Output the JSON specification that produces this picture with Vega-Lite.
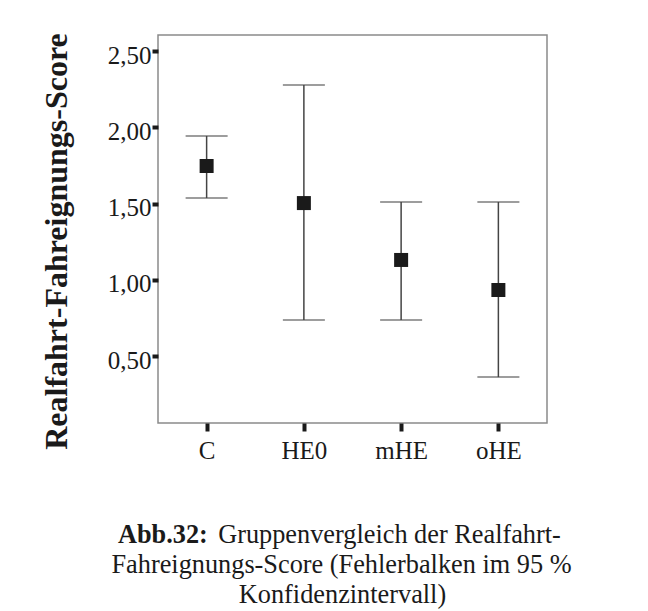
{
  "$schema": "https://vega.github.io/schema/vega-lite/v6.json",
  "width": 389,
  "height": 388,
  "autosize": "none",
  "padding": {"left": 158, "top": 35, "right": 101, "bottom": 188},
  "background": "white",
  "data": {
    "values": [
      {"gruppe": "C", "mittel": 1.746, "unten": 1.536, "oben": 1.943},
      {"gruppe": "HE0", "mittel": 1.503, "unten": 0.736, "oben": 2.277},
      {"gruppe": "mHE", "mittel": 1.130, "unten": 0.736, "oben": 1.510},
      {"gruppe": "oHE", "mittel": 0.933, "unten": 0.362, "oben": 1.510}
    ]
  },
  "title": {
    "text": "Abb.32:",
    "orient": "top",
    "anchor": "start",
    "frame": "group",
    "font": "Liberation Serif",
    "fontSize": 26.3,
    "fontWeight": "bold",
    "color": "#1a1a1a",
    "baseline": "alphabetic",
    "offset": 0,
    "dx": -40,
    "dy": 537
  },
  "resolve": {
    "scale": {"x": "independent", "y": "independent"},
    "axis": {"x": "independent", "y": "independent"}
  },
  "layer": [
    {
      "mark": {"type": "rule", "color": "#444444", "strokeWidth": 1.5},
      "encoding": {
        "x": {
          "field": "gruppe",
          "type": "nominal",
          "scale": {"type": "point", "padding": 0.5, "domain": ["C", "HE0", "mHE", "oHE"]},
          "axis": {
            "title": "Gruppenvergleich der Realfahrt-",
            "titleFont": "Liberation Serif",
            "titleFontSize": 26.3,
            "titleFontWeight": "normal",
            "titleColor": "#1a1a1a",
            "titleAlign": "center",
            "titleBaseline": "alphabetic",
            "titleX": 231,
            "titleY": 119,
            "domain": false,
            "grid": false,
            "ticks": true,
            "tickSize": 8,
            "tickWidth": 4,
            "tickColor": "#1a1a1a",
            "labelFont": "Liberation Serif",
            "labelFontSize": 25,
            "labelColor": "#1a1a1a",
            "labelPadding": 7,
            "labelAngle": 0
          }
        },
        "y": {
          "field": "oben",
          "type": "quantitative",
          "scale": {"domain": [0.061, 2.605], "nice": false, "zero": false},
          "axis": {
            "title": "Realfahrt-Fahreignungs-Score",
            "titleFont": "Liberation Serif",
            "titleFontSize": 32,
            "titleFontWeight": "bold",
            "titleColor": "#1a1a1a",
            "titleAngle": 270,
            "titleAlign": "center",
            "titleBaseline": "alphabetic",
            "titleX": -92,
            "titleY": 206,
            "values": [0.5, 1, 1.5, 2, 2.5],
            "labelExpr": "replace(format(datum.value, '.2f'), '.', ',')",
            "domain": false,
            "grid": false,
            "tickSize": 6,
            "tickWidth": 4,
            "tickColor": "#1a1a1a",
            "labelFont": "Liberation Serif",
            "labelFontSize": 25,
            "labelColor": "#1a1a1a",
            "labelPadding": 1,
            "labelBaseline": "middle",
            "labelOffset": 4
          }
        },
        "y2": {"field": "unten"}
      }
    },
    {
      "mark": {"type": "tick", "color": "#444444", "thickness": 1.5, "size": 42},
      "encoding": {
        "x": {
          "field": "gruppe",
          "type": "nominal",
          "scale": {"type": "point", "padding": 0.5, "domain": ["C", "HE0", "mHE", "oHE"]},
          "axis": {
            "orient": "top",
            "title": "Fahreignungs-Score (Fehlerbalken im 95 %",
            "titleFont": "Liberation Serif",
            "titleFontSize": 26.3,
            "titleFontWeight": "normal",
            "titleColor": "#1a1a1a",
            "titleAlign": "center",
            "titleBaseline": "alphabetic",
            "titleAngle": 0,
            "titleX": 183,
            "titleY": 537,
            "domain": false,
            "grid": false,
            "ticks": false,
            "labels": false
          }
        },
        "y": {
          "field": "oben",
          "type": "quantitative",
          "scale": {"domain": [0.061, 2.605], "nice": false, "zero": false},
          "axis": {
            "orient": "right",
            "title": "Konfidenzintervall)",
            "titleFont": "Liberation Serif",
            "titleFontSize": 26.3,
            "titleFontWeight": "normal",
            "titleColor": "#1a1a1a",
            "titleAngle": 0,
            "titleAlign": "center",
            "titleBaseline": "alphabetic",
            "titleX": -205,
            "titleY": 567,
            "domain": false,
            "grid": false,
            "ticks": false,
            "labels": false
          }
        }
      }
    },
    {
      "mark": {"type": "tick", "color": "#444444", "thickness": 1.5, "size": 42},
      "encoding": {
        "x": {
          "field": "gruppe",
          "type": "nominal",
          "scale": {"type": "point", "padding": 0.5, "domain": ["C", "HE0", "mHE", "oHE"]},
          "axis": null
        },
        "y": {
          "field": "unten",
          "type": "quantitative",
          "scale": {"domain": [0.061, 2.605], "nice": false, "zero": false},
          "axis": null
        }
      }
    },
    {
      "mark": {"type": "square", "filled": true, "size": 196, "color": "#1a1a1a", "opacity": 1},
      "encoding": {
        "x": {
          "field": "gruppe",
          "type": "nominal",
          "scale": {"type": "point", "padding": 0.5, "domain": ["C", "HE0", "mHE", "oHE"]},
          "axis": null
        },
        "y": {
          "field": "mittel",
          "type": "quantitative",
          "scale": {"domain": [0.061, 2.605], "nice": false, "zero": false},
          "axis": null
        }
      }
    }
  ],
  "config": {
    "font": "Liberation Serif",
    "view": {"stroke": "#8a8a8a", "strokeWidth": 1.5}
  }
}
